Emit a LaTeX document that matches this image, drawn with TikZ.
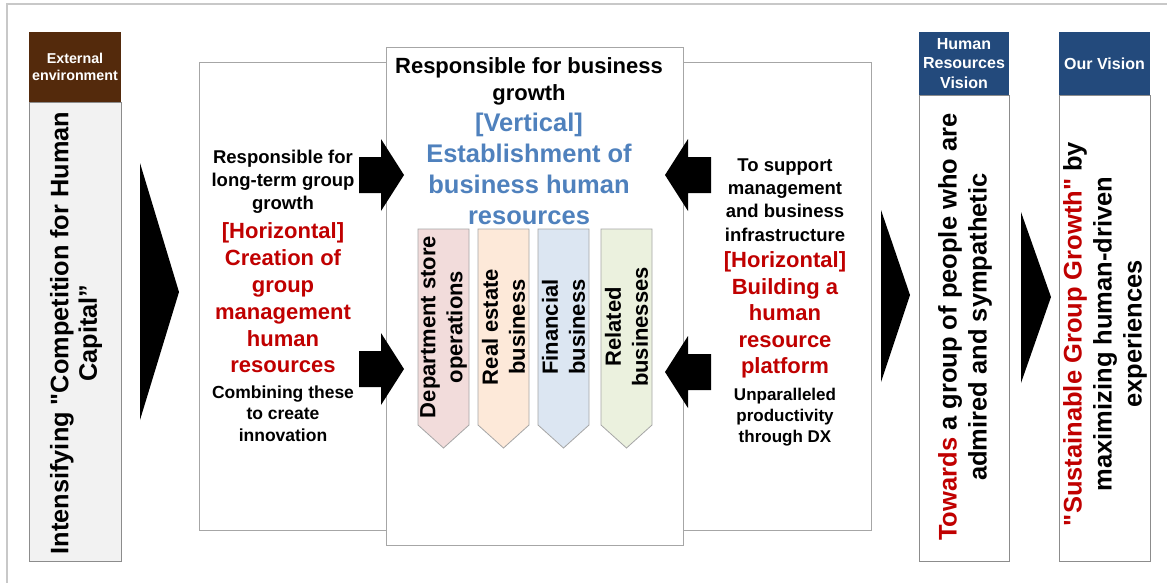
\documentclass[tikz,border=0pt]{standalone}
\usepackage{fontspec}
\setmainfont{Liberation Sans}[Ligatures=TeXOff]
\definecolor{hdrbrown}{HTML}{542A0C}
\definecolor{hdrnavy}{HTML}{234A7C}
\definecolor{accred}{HTML}{C00000}
\definecolor{accblue}{HTML}{4F81BD}
\definecolor{framegray}{HTML}{C8C8C8}
\definecolor{boxgray}{HTML}{A6A6A6}
\definecolor{darkgray}{HTML}{8C8C8C}
\definecolor{extfill}{HTML}{F2F2F2}
\definecolor{pinkbiz}{HTML}{F2DCDB}
\definecolor{peachbiz}{HTML}{FDE9D9}
\definecolor{bluebiz}{HTML}{DCE6F2}
\definecolor{greenbiz}{HTML}{EBF1DE}
\newcommand\fs[2]{\fontsize{#1}{#2}\selectfont\bfseries}
\begin{document}
\begin{tikzpicture}[x=1pt,y=-1pt,
  box/.style={draw=boxgray, line width=1pt, fill=white, inner sep=0pt},
  colbox/.style={draw=darkgray, line width=1pt, fill=white, inner sep=0pt},
  hdr/.style={fill=#1, draw=none, text=white, align=center, inner sep=0pt},
  txt/.style={align=center, inner sep=0pt},
  chevron/.style={fill=black},
  blockarrow/.style={fill=black},
  bizarrow/.style={draw=boxgray, line width=0.8pt, fill=#1},
  biztext/.style={txt, rotate=90, font=\fs{22}{27}}]

\useasboundingbox (0,0) rectangle (1167,582);
\fill[white] (0,0) rectangle (1167,582);
\draw[framegray, line width=1.5pt] (7,590) -- (7,4) -- (1175,4);

% External environment column
\node[colbox, fill=extfill, minimum width=92pt, minimum height=459pt] (extbody) at (75,331.5) {};
\node[hdr=hdrbrown, minimum width=92pt, minimum height=70pt, font=\fs{14.3}{17}] (exthead) at (75,67) {External\\environment};
\node[txt, rotate=90, font=\fs{25.3}{28.5}] (exttext) at (76,333) {Intensifying "Competition for Human\\Capital”};

% chevron into the strategy block
\fill[chevron] (140,163) -- (179,292) -- (140,420) -- cycle;

% side boxes (horizontal themes) and centre box (vertical theme)
\node[box, minimum width=201pt, minimum height=468pt] (leftbox) at (299.5,296) {};
\node[box, minimum width=201pt, minimum height=468pt] (rightbox) at (770.5,296) {};
\node[box, minimum width=297pt, minimum height=498pt] (centerbox) at (534.5,296) {};

% left box text
\node[txt, font=\fs{18.5}{23}] (lefttop) at (283,182) {Responsible for\\long-term group\\growth};
\node[txt, font=\fs{22}{26.8}, text=accred] (leftred) at (283,298) {[Horizontal]\\Creation of\\group\\management\\human\\resources};
\node[txt, font=\fs{17.5}{21.5}] (leftbot) at (283,413.5) {Combining these\\to create\\innovation};

% centre box text
\node[txt, font=\fs{22}{27}] (centertop) at (529,81) {Responsible for business\\growth};
\node[txt, font=\fs{25.5}{31}, text=accblue] (centerblue) at (529,169) {[Vertical]\\Establishment of\\business human\\resources};

% right box text
\node[txt, font=\fs{18.5}{23.3}] (righttop) at (785,200) {To support\\management\\and business\\infrastructure};
\node[txt, font=\fs{22}{26.5}, text=accred] (rightred) at (785,315) {[Horizontal]\\Building a\\human\\resource\\platform};
\node[txt, font=\fs{17}{21}] (rightbot) at (785,417) {Unparalleled\\productivity\\through DX};

% business lines
\draw[bizarrow=pinkbiz] (418,229) -- (469,229) -- (469,425) -- (443.5,448) -- (418,425) -- cycle;
\node[biztext] (biz1) at (443.5,327) {Department store\\operations};
\draw[bizarrow=peachbiz] (478,229) -- (529,229) -- (529,425) -- (503.5,448) -- (478,425) -- cycle;
\node[biztext] (biz2) at (503.5,327) {Real estate\\business};
\draw[bizarrow=bluebiz] (538,229) -- (589,229) -- (589,425) -- (563.5,448) -- (538,425) -- cycle;
\node[biztext] (biz3) at (563.5,327) {Financial\\business};
\draw[bizarrow=greenbiz] (601,229) -- (652,229) -- (652,425) -- (626.5,448) -- (601,425) -- cycle;
\node[biztext] (biz4) at (626.5,327) {Related\\businesses};

% block arrows feeding the centre box
\fill[blockarrow] (359,157) -- (381,157) -- (381,139) -- (404,175) -- (381,211) -- (381,193) -- (359,193) -- cycle;
\fill[blockarrow] (359,351) -- (381,351) -- (381,333) -- (404,369) -- (381,405) -- (381,387) -- (359,387) -- cycle;
\fill[blockarrow] (711,157) -- (688,157) -- (688,139) -- (665,175) -- (688,211) -- (688,193) -- (711,193) -- cycle;
\fill[blockarrow] (711,354) -- (688,354) -- (688,336) -- (665,372) -- (688,408) -- (688,390) -- (711,390) -- cycle;

% chevrons towards the visions
\fill[chevron] (881,210) -- (910,295) -- (881,382) -- cycle;
\fill[chevron] (1021,212) -- (1051,297) -- (1021,383) -- cycle;

% Human Resources Vision column
\node[colbox, minimum width=90pt, minimum height=466pt] (hrbody) at (964,328) {};
\node[hdr=hdrnavy, minimum width=90pt, minimum height=63pt, font=\fs{16}{19.5}] (hrhead) at (964,63.5) {Human\\Resources\\Vision};
\node[txt, rotate=90, font=\fs{25.5}{30}] (hrtext) at (965,327) {\textcolor{accred}{Towards} a group of people who are\\admired and sympathetic};

% Our Vision column
\node[colbox, minimum width=91pt, minimum height=466pt] (ovbody) at (1104.5,328) {};
\node[hdr=hdrnavy, minimum width=91pt, minimum height=63pt, font=\fs{16}{19.5}] (ovhead) at (1104.5,63.5) {Our Vision};
\node[txt, rotate=90, font=\fs{25.5}{30}] (ovtext) at (1105,334) {\textcolor{accred}{"Sustainable Group Growth"} by\\maximizing human-driven\\experiences};
\end{tikzpicture}
\end{document}
